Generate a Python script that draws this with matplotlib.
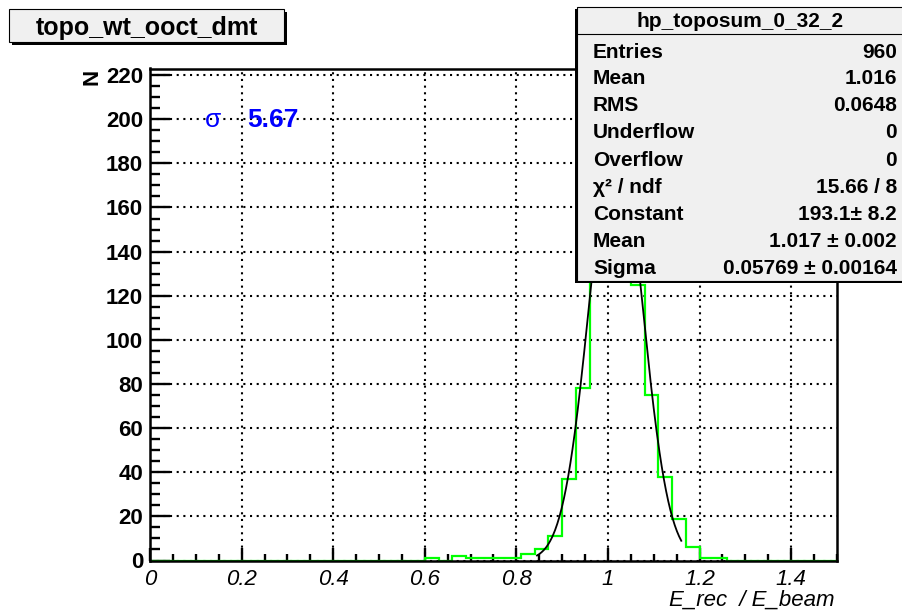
import numpy as np
import matplotlib
matplotlib.use('Agg')
import matplotlib.pyplot as plt
from matplotlib.patches import Rectangle
from matplotlib.lines import Line2D
from matplotlib.ticker import MultipleLocator, FuncFormatter

plt.rcParams['font.family'] = ['Liberation Sans', 'DejaVu Sans']

# histogram: 50 bins of 0.03 on [0, 1.5], only bins from 0.60 to 1.26 are filled
n_bins = 50
bin_width = 0.03
first_filled = 20  # bin starting at 0.60
filled_counts = [1, 0, 2, 1, 1, 1, 1, 3, 5, 11, 37, 78, 158, 212, 186,
                 125, 75, 38, 19, 6, 1, 1]

# gaussian fit result (from the stats box)
fit_const = 193.1
fit_mean = 1.017
fit_sigma = 0.05769
fit_lo, fit_hi = 0.845, 1.16

hist_name = 'topo_wt_ooct_dmt'
stats_title = 'hp_toposum_0_32_2'
stats_labels = ['Entries', 'Mean', 'RMS', 'Underflow', 'Overflow',
                'χ² / ndf', 'Constant', 'Mean', 'Sigma']
stats_values = ['960', '1.016', '0.0648', '0', '0',
                '15.66 / 8', '193.1± 8.2', '1.017 ± 0.002', '0.05769 ± 0.00164']
sigma_text = '5.67'

W, H = 903, 612


def fx(px):
    return px / W


def fy(py):
    return 1 - py / H


counts = np.zeros(n_bins)
counts[first_filled:first_filled + len(filled_counts)] = filled_counts
edges = np.arange(n_bins + 1) * bin_width

fig = plt.figure(figsize=(W / 100, H / 100), dpi=100, facecolor='white')
ax = fig.add_axes([fx(150), fy(560.5), fx(837) - fx(150), fy(68.5) - fy(560.5)])

ax.stairs(counts, edges, color='#00ff00', linewidth=1.6, zorder=2)

xf = np.linspace(fit_lo, fit_hi, 200)
yf = fit_const * np.exp(-0.5 * ((xf - fit_mean) / fit_sigma) ** 2)
ax.plot(xf, yf, color='black', linewidth=1.3, zorder=3)

ax.set_xlim(0, 1.5)
ax.set_ylim(0, 223)

ax.xaxis.set_major_locator(MultipleLocator(0.2))
ax.xaxis.set_minor_locator(MultipleLocator(0.05))
ax.yaxis.set_major_locator(MultipleLocator(20))
ax.yaxis.set_minor_locator(MultipleLocator(5))
ax.xaxis.set_major_formatter(FuncFormatter(lambda v, p: '%g' % round(v, 2)))

ax.tick_params(axis='x', which='major', direction='in', length=9.5, width=1.7,
               top=False, pad=6, labelsize=16)
ax.tick_params(axis='x', which='minor', direction='in', length=4.7, width=1.7, top=False)
ax.tick_params(axis='y', which='major', direction='in', length=14.4, width=1.7,
               right=False, pad=5, labelsize=16)
ax.tick_params(axis='y', which='minor', direction='in', length=7.2, width=1.7, right=False)
for lab in ax.get_xticklabels():
    lab.set_fontstyle('italic')
for lab in ax.get_yticklabels():
    lab.set_fontweight('bold')

ax.grid(True, which='major', color='black', linestyle=(0, (1, 2.2)), linewidth=1.5)
for sp in ax.spines.values():
    sp.set_linewidth(1.8)
    sp.set_zorder(4)

# axis titles
fig.text(fx(835), fy(606), 'E_rec  / E_beam', ha='right', va='baseline',
         fontsize=16, style='italic')
fig.text(fx(92), fy(77), 'N', ha='center', va='center', rotation=90,
         fontsize=16, fontweight='bold')

# sigma label
fig.text(fx(213), fy(127), 'σ', ha='center', va='baseline', fontsize=19, color='#0000ff')
fig.text(fx(247), fy(127), sigma_text, ha='left', va='baseline', fontsize=19,
         fontweight='bold', color='#0000ff')

# title box
fig.patches.append(Rectangle((fx(12), fy(45)), fx(287) - fx(12), fy(12) - fy(45),
                             transform=fig.transFigure, facecolor='black', edgecolor='none'))
fig.patches.append(Rectangle((fx(9), fy(42)), fx(284) - fx(9), fy(9) - fy(42),
                             transform=fig.transFigure, facecolor='#f0f0f0',
                             edgecolor='black', linewidth=0.8))
fig.text(fx(146.5), fy(35), hist_name, ha='center', va='baseline',
         fontsize=18, fontweight='bold')

# stats box
fig.patches.append(Rectangle((fx(575), fy(283)), 1.01 - fx(575), fy(9) - fy(283),
                             transform=fig.transFigure, facecolor='black', edgecolor='none'))
fig.patches.append(Rectangle((fx(577), fy(281)), 1.01 - fx(577), fy(7) - fy(281),
                             transform=fig.transFigure, facecolor='#f0f0f0',
                             edgecolor='black', linewidth=0.8))
fig.add_artist(Line2D([fx(577), 1], [fy(34), fy(34)], transform=fig.transFigure,
                      color='black', linewidth=0.8))
fig.text(fx(740), fy(27), stats_title, ha='center', va='baseline',
         fontsize=15, fontweight='bold')
row_y = [51, 77, 104, 131, 159, 186, 213, 240, 267]
for lab, val, yy in zip(stats_labels, stats_values, row_y):
    fig.text(fx(593), fy(yy + 7), lab, ha='left', va='baseline', fontsize=15, fontweight='bold')
    fig.text(fx(897), fy(yy + 7), val, ha='right', va='baseline', fontsize=15, fontweight='bold')

fig.savefig('out.png', dpi=100)
